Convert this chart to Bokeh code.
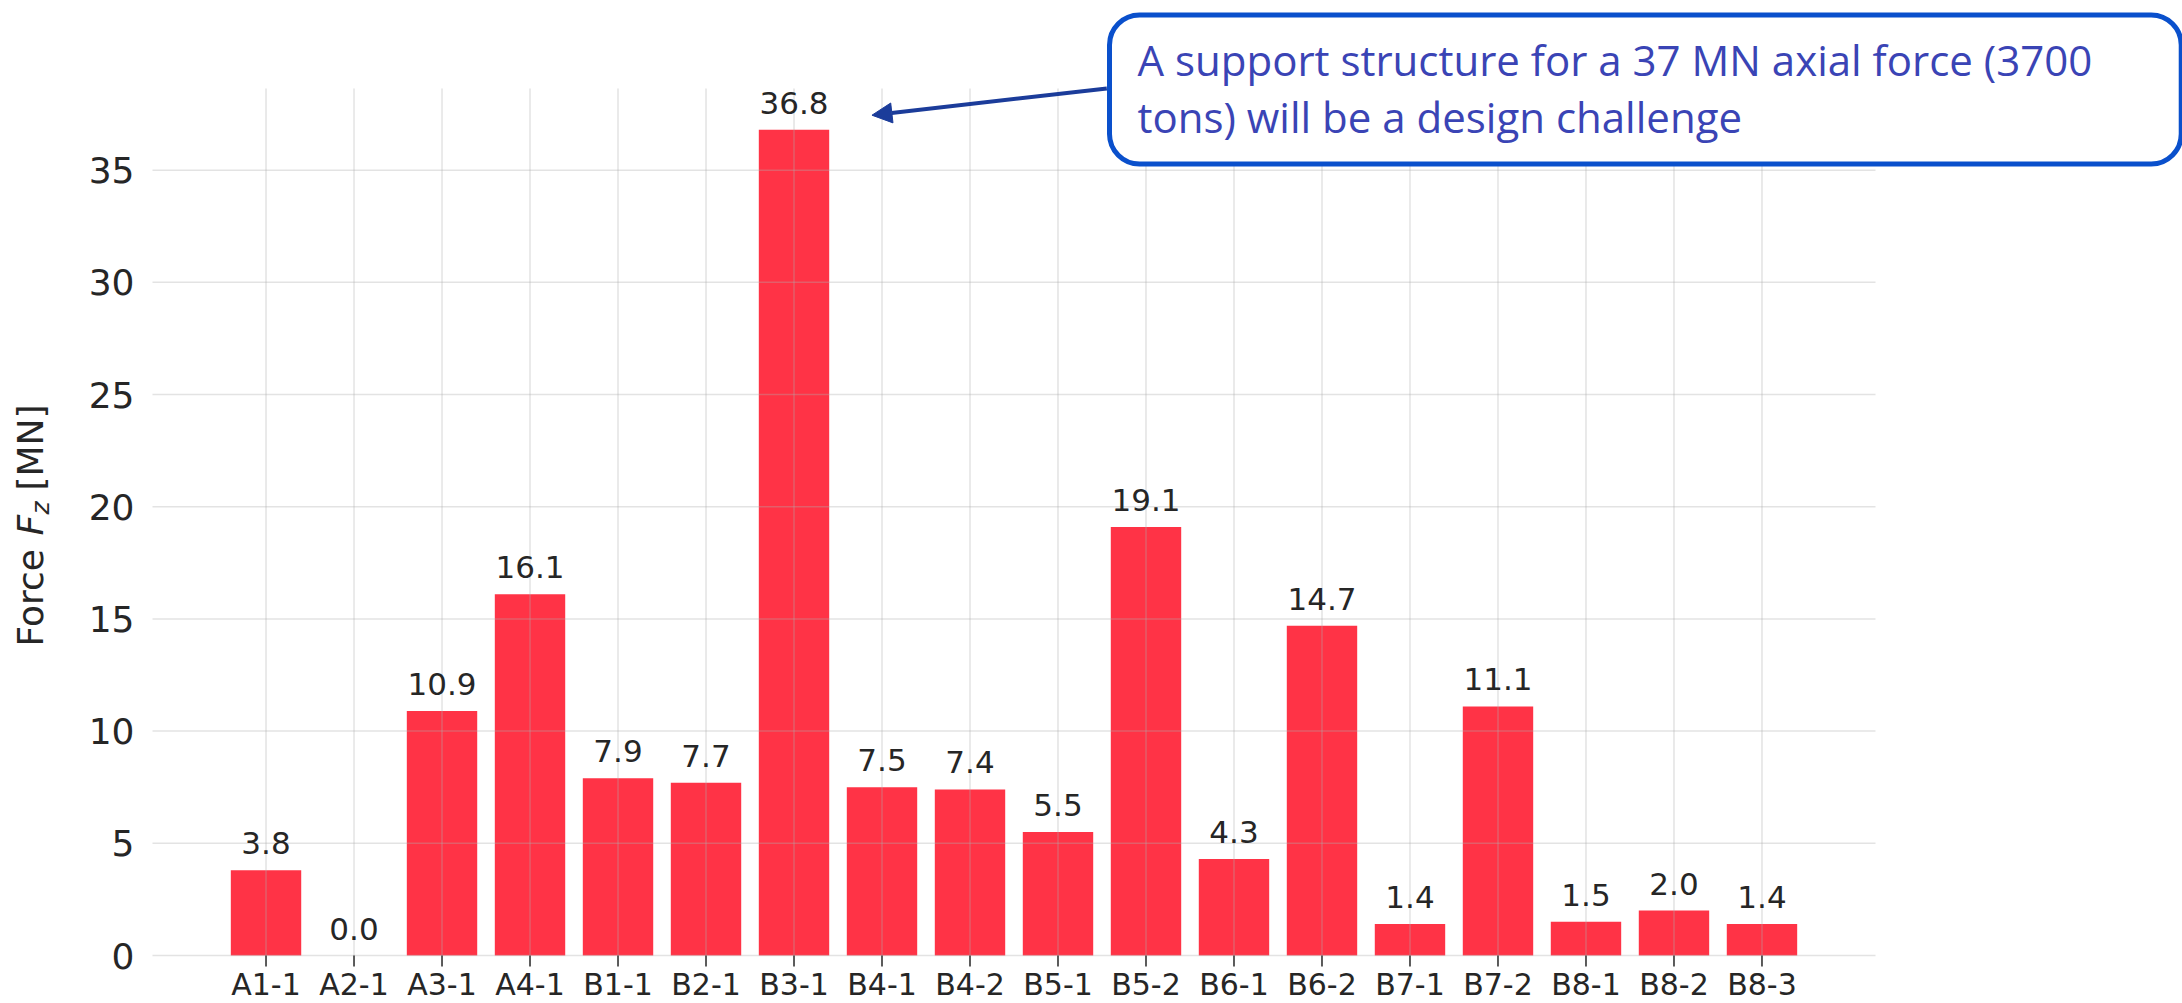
import math

from bokeh.core.properties import value
from bokeh.embed import file_html
from bokeh.models import Arrow, ColumnDataSource, Label, NormalHead, Range1d
from bokeh.plotting import figure
from bokeh.resources import INLINE

# Axial force per support
supports = ["A1-1", "A2-1", "A3-1", "A4-1", "B1-1", "B2-1", "B3-1", "B4-1", "B4-2",
            "B5-1", "B5-2", "B6-1", "B6-2", "B7-1", "B7-2", "B8-1", "B8-2", "B8-3"]
force_mn = [3.8, 0.0, 10.9, 16.1, 7.9, 7.7, 36.8, 7.5, 7.4,
            5.5, 19.1, 4.3, 14.7, 1.4, 11.1, 1.5, 2.0, 1.4]
y_ticks = [0, 5, 10, 15, 20, 25, 30, 35]

note_text = ("A support structure for a 37 MN axial force (3700\n"
             "tons) will be a design challenge")

BAR_COLOR = "#ff3346"
TEXT_COLOR = "#262626"
GRID_COLOR = "#b0b0b0"
FONT = "DejaVu Sans"

W, H = 2182, 1003
# plot area inside the canvas (pixels from left / top)
AREA_L, AREA_R, AREA_T, AREA_B = 152, 1875, 88, 955

idx = list(range(len(supports)))
bar_w = 0.8
span = (len(supports) - 1) + bar_w
x_lo = -bar_w / 2 - 0.05 * span
x_hi = len(supports) - 1 + bar_w / 2 + 0.05 * span
y_lo, y_hi = 0.0, max(force_mn) * 1.05

# the canvas is one frame; the data ranges are widened so that the
# plotting area lands where the axes would leave it
px_x = (AREA_R - AREA_L) / (x_hi - x_lo)
px_y = (AREA_B - AREA_T) / (y_hi - y_lo)
x_range = Range1d(x_lo - AREA_L / px_x, x_hi + (W - AREA_R) / px_x)
y_range = Range1d(y_lo - (H - AREA_B) / px_y, y_hi + AREA_T / px_y)

p = figure(
    width=W, height=H,
    output_backend="svg", toolbar_location=None,
    x_range=x_range, y_range=y_range,
    x_axis_location=None, y_axis_location=None,
    min_border=0,
)
p.outline_line_color = None
p.background_fill_color = "white"
p.border_fill_color = "white"
p.xgrid.visible = False
p.ygrid.visible = False

src = ColumnDataSource(dict(
    x=idx,
    top=force_mn,
    label=[f"{v:.1f}" for v in force_mn],
))

p.vbar(x="x", top="top", width=bar_w, source=src,
       fill_color=BAR_COLOR, line_color=None)

# light grid drawn over the bars
p.segment(x0=idx, x1=idx, y0=[y_lo] * len(idx), y1=[y_hi] * len(idx),
          line_color=GRID_COLOR, line_alpha=0.35, line_width=1.5)
p.segment(x0=[x_lo] * len(y_ticks), x1=[x_hi] * len(y_ticks), y0=y_ticks, y1=y_ticks,
          line_color=GRID_COLOR, line_alpha=0.35, line_width=1.5)

# value above each bar
p.text(x="x", y="top", text="label", source=src,
       text_align="center", text_baseline="middle", y_offset=-27,
       text_font=value(FONT), text_font_size="31px", text_color=TEXT_COLOR)

# x axis: tick marks and support names
p.ray(x=idx, y=[y_lo] * len(idx), length=11, length_units="screen",
      angle=-math.pi / 2, line_color=TEXT_COLOR, line_width=1.5)
p.text(x=idx, y=[y_lo] * len(idx), text=supports,
       text_align="center", text_baseline="middle", y_offset=29,
       text_font=value(FONT), text_font_size="30px", text_color=TEXT_COLOR)

# y axis: tick values
p.text(x=[x_lo] * len(y_ticks), y=y_ticks, text=[str(t) for t in y_ticks],
       text_align="right", text_baseline="middle", x_offset=-18,
       text_font=value(FONT), text_font_size="36px", text_color=TEXT_COLOR)

# y axis title: "Force F_z [MN]" with italic F and subscript z
label_parts = [
    ("Force", 30, 357, "36px", "normal"),
    ("F", 30, 468, "36px", "italic"),
    ("z", 40, 489, "25px", "italic"),
    ("[MN]", 30, 513, "36px", "normal"),
]
for txt, sx, sy, size, style in label_parts:
    p.add_layout(Label(
        x=sx, y=sy, x_units="screen", y_units="screen", text=txt,
        angle=math.pi / 2, text_align="left", text_baseline="middle",
        text_font=FONT, text_font_size=size, text_font_style=style,
        text_color=TEXT_COLOR,
    ))

# arrow from the callout to the tallest bar
peak = force_mn.index(max(force_mn))
p.add_layout(Arrow(
    end=NormalHead(size=20, fill_color="#1b3c9a", line_color="#1b3c9a"),
    x_start=peak + 3.555, y_start=y_hi,
    x_end=peak + 0.886, y_end=max(force_mn) + 0.65,
    line_color="#1b3c9a", line_width=4,
))

# callout box
p.add_layout(Label(
    x=1109, y=H - 14.5, x_units="screen", y_units="screen", text=note_text,
    text_align="left", text_baseline="top", text_line_height=1.0,
    text_font="Open Sans", text_font_size="42px", text_color="#3a44b5",
    background_fill_color="white",
    border_line_color="#0a50cc", border_line_width=5, border_radius=30,
    padding=dict(left=28, right=89, top=16, bottom=19),
))

open("out.html", "w").write(file_html(p, INLINE))
